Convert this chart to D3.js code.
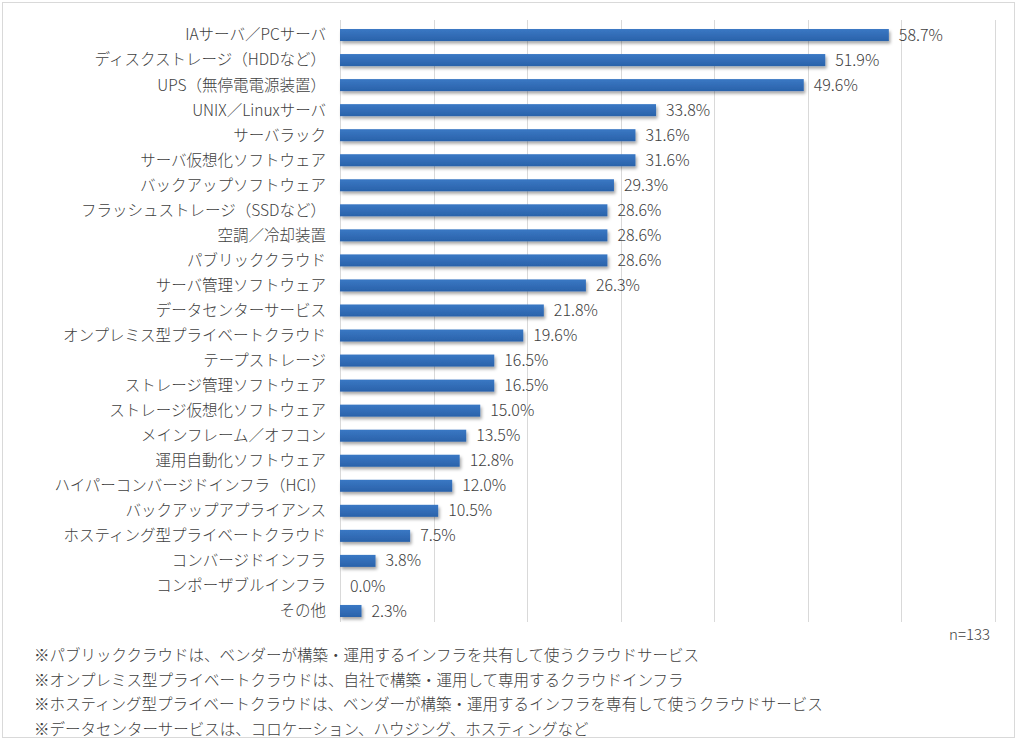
<!DOCTYPE html>
<html>
<head>
	<meta charset="utf-8">
	<title>導入製品</title>
	<script src="https://d3js.org/d3.v7.min.js"></script>
	<style>
		body { margin: 0; background: #fff; }
		text { font-family: "Noto Sans CJK JP", "Noto Sans", sans-serif; font-weight: 300; }
	</style>
</head>
<body>
	<svg width="1017" height="740"></svg>
	<script>
		const categories = ['IAサーバ／PCサーバ', 'ディスクストレージ（HDDなど）', 'UPS（無停電電源装置）', 'UNIX／Linuxサーバ',
			'サーバラック', 'サーバ仮想化ソフトウェア', 'バックアップソフトウェア', 'フラッシュストレージ（SSDなど）',
			'空調／冷却装置', 'パブリッククラウド', 'サーバ管理ソフトウェア', 'データセンターサービス',
			'オンプレミス型プライベートクラウド', 'テープストレージ', 'ストレージ管理ソフトウェア', 'ストレージ仮想化ソフトウェア',
			'メインフレーム／オフコン', '運用自動化ソフトウェア', 'ハイパーコンバージドインフラ（HCI）', 'バックアップアプライアンス',
			'ホスティング型プライベートクラウド', 'コンバージドインフラ', 'コンポーザブルインフラ', 'その他'];
		const values = [58.7, 51.9, 49.6, 33.8, 31.6, 31.6, 29.3, 28.6, 28.6, 28.6, 26.3, 21.8,
			19.6, 16.5, 16.5, 15.0, 13.5, 12.8, 12.0, 10.5, 7.5, 3.8, 0.0, 2.3];
		const xTicks = [0, 10, 20, 30, 40, 50, 60, 70];
		const sampleNote = 'n=133';
		const footnotes = [
			'※パブリッククラウドは、ベンダーが構築・運用するインフラを共有して使うクラウドサービス',
			'※オンプレミス型プライベートクラウドは、自社で構築・運用して専用するクラウドインフラ',
			'※ホスティング型プライベートクラウドは、ベンダーが構築・運用するインフラを専有して使うクラウドサービス',
			'※データセンターサービスは、コロケーション、ハウジング、ホスティングなど'
		];

		const rows = categories.map((c, i) => ({ name: c, value: values[i] }));

		const svg = d3.select('svg');

		// outer frame
		svg.append('rect')
			.attr('x', 2.5).attr('y', 2.5)
			.attr('width', 1012).attr('height', 735)
			.attr('fill', 'none')
			.attr('stroke', '#d9d9d9');

		const defs = svg.append('defs');
		const grad = defs.append('linearGradient')
			.attr('id', 'barGrad')
			.attr('x1', 0).attr('y1', 0).attr('x2', 0).attr('y2', 1);
		grad.append('stop').attr('offset', '0%').attr('stop-color', '#3a78c4');
		grad.append('stop').attr('offset', '100%').attr('stop-color', '#2a62aa');

		const shadow = defs.append('filter')
			.attr('id', 'shadow')
			.attr('x', '-10%').attr('y', '-50%')
			.attr('width', '130%').attr('height', '250%');
		shadow.append('feDropShadow')
			.attr('dx', 1.5).attr('dy', 2.5)
			.attr('stdDeviation', 1.5)
			.attr('flood-color', '#000')
			.attr('flood-opacity', 0.35);

		const xScale = d3.scaleLinear()
			.domain([0, 70])
			.range([340, 994.5]);

		const yScale = d3.scaleBand()
			.domain(categories)
			.range([22.5, 623.5])
			.paddingInner(0.52)
			.paddingOuter(0.26);

		// gridlines
		svg.append('g')
			.selectAll('line')
			.data(xTicks)
			.join('line')
			.attr('x1', d => Math.round(xScale(d)) + 0.5)
			.attr('x2', d => Math.round(xScale(d)) + 0.5)
			.attr('y1', 20)
			.attr('y2', 622)
			.attr('stroke', '#d9d9d9')
			.attr('stroke-width', 1);

		// bars
		svg.append('g')
			.selectAll('rect')
			.data(rows.filter(d => d.value > 0))
			.join('rect')
			.attr('x', xScale(0))
			.attr('y', d => yScale(d.name))
			.attr('width', d => xScale(d.value) - xScale(0))
			.attr('height', yScale.bandwidth())
			.attr('fill', 'url(#barGrad)')
			.attr('filter', 'url(#shadow)');

		// value labels
		svg.append('g')
			.selectAll('text')
			.data(rows)
			.join('text')
			.attr('x', d => xScale(d.value) + 10)
			.attr('y', d => yScale(d.name) + yScale.bandwidth() / 2)
			.attr('dy', '0.35em')
			.attr('font-size', 16)
			.attr('fill', '#404040')
			.text(d => d3.format('.1f')(d.value) + '%');

		// category labels
		svg.append('g')
			.selectAll('text')
			.data(categories)
			.join('text')
			.attr('x', 326)
			.attr('y', d => yScale(d) + yScale.bandwidth() / 2)
			.attr('dy', '0.35em')
			.attr('text-anchor', 'end')
			.attr('font-size', 15.5)
			.attr('fill', '#404040')
			.text(d => d);

		svg.append('text')
			.attr('x', 990)
			.attr('y', 635)
			.attr('dy', '0.35em')
			.attr('text-anchor', 'end')
			.attr('font-size', 15)
			.attr('fill', '#404040')
			.text(sampleNote);

		svg.append('g')
			.selectAll('text')
			.data(footnotes)
			.join('text')
			.attr('x', 34)
			.attr('y', (d, i) => 656 + i * 24.5)
			.attr('dy', '0.35em')
			.attr('font-size', 15.5)
			.attr('fill', '#404040')
			.text(d => d);
	</script>
</body>
</html>
